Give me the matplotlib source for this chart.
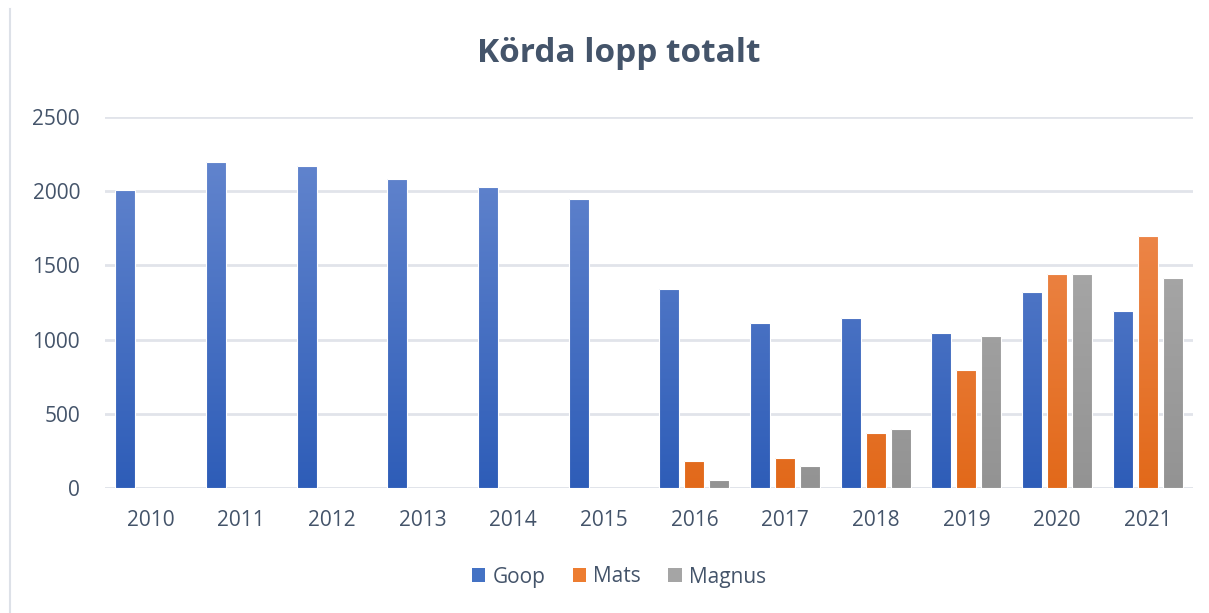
import numpy as np
import matplotlib
matplotlib.use('Agg')
import matplotlib.pyplot as plt
from matplotlib.colors import LinearSegmentedColormap
from matplotlib.lines import Line2D
from matplotlib.patches import Patch

# --- DATA ---
years = ['2010', '2011', '2012', '2013', '2014', '2015',
         '2016', '2017', '2018', '2019', '2020', '2021']
goop = [2010, 2200, 2170, 2085, 2025, 1950, 1340, 1110, 1145, 1045, 1320, 1195]
mats = [0, 0, 0, 0, 0, 0, 180, 200, 370, 795, 1445, 1700]
magnus = [0, 0, 0, 0, 0, 0, 55, 150, 400, 1025, 1445, 1415]

series = [('Goop', goop, '#4472C4', '#6889D0', '#2E5DB8'),
          ('Mats', mats, '#ED7D31', '#F1925C', '#E2691A'),
          ('Magnus', magnus, '#A5A5A5', '#B2B2B2', '#939393')]

text_col = '#44546A'
grid_col = '#E1E4EA'
font = 'Open Sans'

fig = plt.figure(figsize=(12.09, 6.13), dpi=100)
ax = fig.add_axes([105 / 1209, 1 - 488 / 613, 1088 / 1209, 371 / 613])

x = np.arange(len(years))
step = 0.276
width = 0.22

for i, (name, vals, base, top, bottom) in enumerate(series):
    cmap = LinearSegmentedColormap.from_list(name, [bottom, top])
    grad = np.linspace(0, 1, 256).reshape(-1, 1)
    bars = ax.bar(x + (i - 1) * step, vals, width, color=base,
                  edgecolor='white', linewidth=0.8, zorder=2)
    for b in bars:
        h = b.get_height()
        if h <= 0:
            b.set_visible(False)
            continue
        bx = b.get_x()
        # gradient fill, lighter at the top
        im = ax.imshow(grad, extent=[bx, bx + b.get_width(), 0, 2500],
                       origin='lower', cmap=cmap, aspect='auto', zorder=2.5)
        im.set_clip_path(b)
        b.set_facecolor('none')
        b.set_zorder(3)

ax.set_xlim(-0.5, len(years) - 0.5)
ax.set_ylim(0, 2500)
ax.set_yticks([0, 500, 1000, 1500, 2000, 2500])
ax.set_xticks(x)
ax.set_xticklabels(years)

for lab in ax.get_xticklabels() + ax.get_yticklabels():
    lab.set_fontfamily(font)
    lab.set_fontsize(15)
    lab.set_color(text_col)

ax.tick_params(axis='both', length=0)
ax.tick_params(axis='y', pad=18)
ax.tick_params(axis='x', pad=16)
ax.grid(axis='y', color=grid_col, linewidth=2, zorder=0)
for s in ax.spines.values():
    s.set_visible(False)
ax.axhline(0, color=grid_col, linewidth=2, zorder=1)

fig.text(0.512, 1 - 62 / 613, 'Körda lopp totalt', ha='center', va='baseline',
         fontsize=24, fontweight='bold', color=text_col, fontfamily=font)

handles = [Patch(facecolor=c, edgecolor='none', label=n) for n, _, c, _, _ in series]
leg = fig.legend(handles=handles, loc='center', bbox_to_anchor=(0.512, 1 - 577 / 613),
                 ncol=3, frameon=False, handlelength=0.65, handleheight=0.65,
                 handletextpad=0.35, columnspacing=1.3,
                 prop={'family': font, 'size': 15})
for t in leg.get_texts():
    t.set_color(text_col)

# left border line of the picture
fig.add_artist(Line2D([10 / 1209, 10 / 1209], [0, 1 - 9 / 613],
                      color='#DDE1E8', linewidth=1.5))

fig.savefig('out.png', dpi=100)
